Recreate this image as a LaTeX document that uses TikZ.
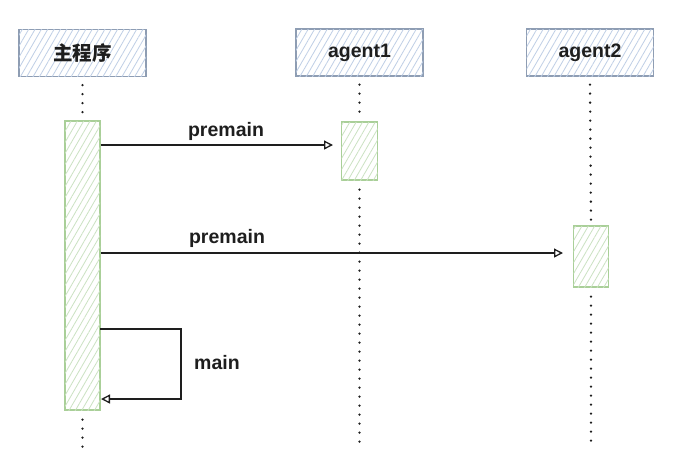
\documentclass[tikz,border=0pt]{standalone}
\usepackage{fontspec}
\setmainfont{Liberation Sans}
\newfontfamily\cjk{Noto Sans CJK SC}
\usetikzlibrary{patterns.meta,arrows.meta}
\definecolor{hdrline}{HTML}{8E9DB3}
\definecolor{hdrhatch}{HTML}{BFCFE6}
\definecolor{actline}{HTML}{A9CF98}
\definecolor{acthatch}{HTML}{CBE2C2}
\definecolor{ink}{HTML}{1E1E1E}
\tikzset{
  header/.style={draw=hdrline, line width=1.2pt, fill=white,
    postaction={pattern={Lines[angle=60,distance=5.5pt,line width=0.8pt]}, pattern color=hdrhatch},
    minimum width=127pt, minimum height=47pt, inner sep=0pt,
    font=\fontsize{19.5}{22}\selectfont\bfseries, text=ink},
  actbox/.style={draw=actline, line width=1.2pt, fill=white,
    postaction={pattern={Lines[angle=60,distance=5.5pt,line width=0.8pt]}, pattern color=acthatch},
    minimum width=35pt, inner sep=0pt},
  lifeline/.style={draw=ink, line width=2.6pt, line cap=round, dash pattern=on 0pt off 9pt},
  msg/.style={draw=ink, line width=1.3pt, -{Triangle[open,length=9pt,width=9pt,line width=1.3pt]}},
  lbl/.style={font=\fontsize{19.5}{22}\selectfont\bfseries, text=ink, inner sep=0pt}
}
\begin{document}
\begin{tikzpicture}[x=1pt,y=-1pt]
\useasboundingbox (0,0) rectangle (677,475);
% headers
\node[header] (h0) at (82.5,53) {\cjk\bfseries 主程序};
\node[header] (h1) at (359.5,52.5) {agent1};
\node[header] (h2) at (590,52.5) {agent2};
% activations
\node[actbox, minimum height=289pt] (a0) at (82.5,265.5) {};
\node[actbox, minimum width=36pt, minimum height=58pt] (a1) at (359.5,151) {};
\node[actbox, minimum height=61pt] (a2) at (591,256.5) {};
% lifeline ends
\coordinate (e0) at (82.5,455);
\coordinate (e1) at (359.5,446);
\coordinate (e2) at (591,446);
\draw[lifeline] ([yshift=-8pt]h0.south) -- ([yshift=4pt]a0.north);
\draw[lifeline] ([yshift=-9pt]a0.south) -- (e0);
\draw[lifeline] ([yshift=-8pt]h1.south) -- ([yshift=4pt]a1.north);
\draw[lifeline] ([yshift=-9pt]a1.south) -- (e1);
\draw[lifeline] ([yshift=-8pt]h2.south) -- ([yshift=4pt]a2.north);
\draw[lifeline] ([yshift=-9pt]a2.south) -- (e2);
% messages
\coordinate (m1) at (333,145);
\coordinate (m2) at (563,253);
\draw[msg] (a0.east |- m1) -- (m1);
\draw[msg] (a0.east |- m2) -- (m2);
\node[lbl] (t1) at (226,131) {premain};
\node[lbl] (t2) at (227,238) {premain};
% self call
\coordinate (s1) at (100,329);
\coordinate (s2) at (181,329);
\coordinate (s3) at (181,399);
\coordinate (s4) at (101,399);
\draw[msg] (s1) -- (s2) -- (s3) -- (s4);
\node[lbl] (t3) at (217,363) {main};
\end{tikzpicture}
\end{document}
